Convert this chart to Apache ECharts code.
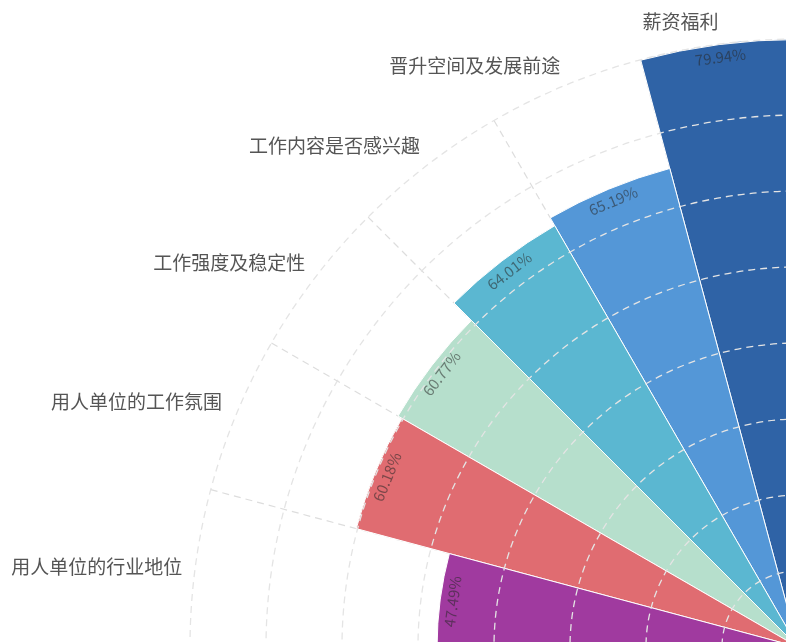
<!DOCTYPE html>
<html>
<head>
    <meta http-equiv="content-type" content="text/html;charset=utf-8">
    <script src="https://cdn.jsdelivr.net/npm/echarts@6/dist/echarts.min.js"></script>
    <style>
        html, body { margin: 0; padding: 0; background: #fff; }
        #rose { width: 786px; height: 642px; }
    </style>
</head>
<body>
<div id="rose"></div>

<script type="text/javascript">
    // 各项因素占比（%）
    var categories = ['薪资福利', '晋升空间及发展前途', '工作内容是否感兴趣', '工作强度及稳定性', '用人单位的工作氛围', '用人单位的行业地位'];
    var values = [79.94, 65.19, 64.01, 60.77, 60.18, 47.49];
    var colors = ['#2f63a6', '#5497d7', '#5bb7d1', '#b6dfcc', '#e06c71', '#a03a9f'];
    var slotCount = 24; // 每格 15°，图里只露出左上四分之一

    // 类目文字的微调，用 padding 挪位置
    var labelPad = [
        [0, 74, 5, 0],
        [0, 2, 3, 0],
        [0, 3, 3, 0],
        [0, 4, 0, 0],
        [0, 7, 0, 0],
        [0, 5, 0, 0]
    ];

    var angleData = [];
    for (var i = 0; i < slotCount; i++) {
        if (i < categories.length) {
            var ts = { padding: labelPad[i] };
            if (i === categories.length - 1) {
                ts.verticalAlign = 'bottom';
            }
            angleData.push({ value: categories[i], textStyle: ts });
        } else {
            angleData.push('');
        }
    }

    var barData = [];
    for (var j = 0; j < values.length; j++) {
        barData.push({
            value: values[j],
            itemStyle: { color: colors[j] }
        });
    }

    var myChart = echarts.init(document.getElementById('rose'));
    var option = {
        animation: false,
        textStyle: { fontFamily: '"Noto Sans CJK SC", "Noto Sans", sans-serif' },
        polar: {
            center: [798, 647],
            radius: 608
        },
        angleAxis: {
            type: 'category',
            data: angleData,
            startAngle: 90,
            clockwise: false,
            z: 1,
            axisLine: { show: false },
            axisTick: { show: false },
            axisLabel: { interval: 0, fontSize: 19, color: '#555' },
            splitLine: {
                show: true,
                interval: 0,
                lineStyle: { type: [7, 5], color: '#ddd', width: 1.2 }
            }
        },
        radiusAxis: {
            min: 0,
            max: 80,
            interval: 10,
            z: 10,
            axisLine: { show: false },
            axisTick: { show: false },
            axisLabel: { show: false },
            splitLine: {
                show: true,
                lineStyle: { type: [7, 5], color: '#e4e4e4', width: 1.3 }
            }
        },
        series: [{
            type: 'bar',
            coordinateSystem: 'polar',
            data: barData,
            barCategoryGap: 0,
            itemStyle: { borderColor: '#fff', borderWidth: 1 },
            label: {
                show: true,
                position: 'insideEnd',
                formatter: '{c}%',
                fontSize: 15,
                color: 'rgba(40,40,40,0.55)'
            }
        }]
    };
    myChart.setOption(option);
</script>
</body>
</html>
